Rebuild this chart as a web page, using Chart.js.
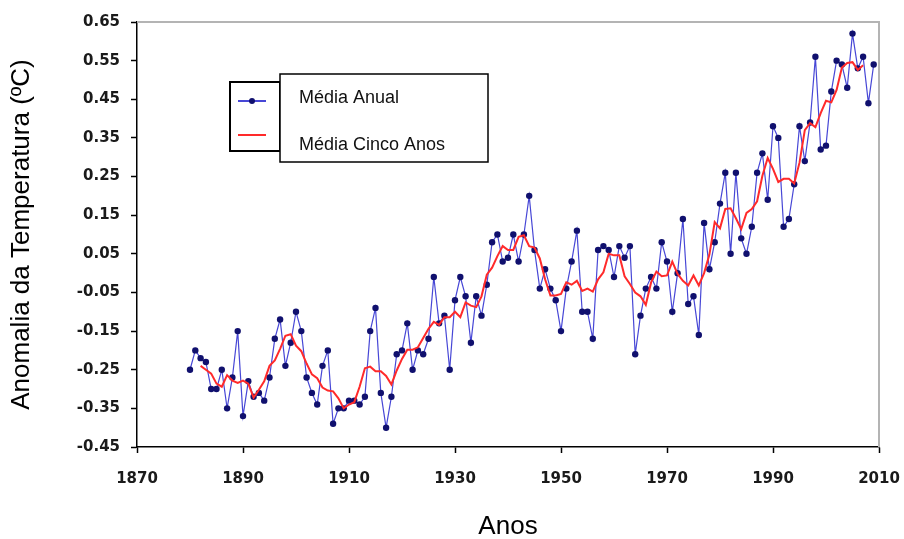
<!DOCTYPE html>
<html>
<head>
<meta charset="utf-8">
<script src="https://cdn.jsdelivr.net/npm/chart.js@4/dist/chart.umd.min.js"></script>
<style>
  html, body { margin: 0; padding: 0; background: #fff; }
  #wrap { width: 904px; height: 539px; }
</style>
</head>
<body>
<div id="wrap"><canvas id="c" width="904" height="539"></canvas></div>
<script>
// ---- data ----
const years = [1880,1881,1882,1883,1884,1885,1886,1887,1888,1889,
  1890,1891,1892,1893,1894,1895,1896,1897,1898,1899,
  1900,1901,1902,1903,1904,1905,1906,1907,1908,1909,
  1910,1911,1912,1913,1914,1915,1916,1917,1918,1919,
  1920,1921,1922,1923,1924,1925,1926,1927,1928,1929,
  1930,1931,1932,1933,1934,1935,1936,1937,1938,1939,
  1940,1941,1942,1943,1944,1945,1946,1947,1948,1949,
  1950,1951,1952,1953,1954,1955,1956,1957,1958,1959,
  1960,1961,1962,1963,1964,1965,1966,1967,1968,1969,
  1970,1971,1972,1973,1974,1975,1976,1977,1978,1979,
  1980,1981,1982,1983,1984,1985,1986,1987,1988,1989,
  1990,1991,1992,1993,1994,1995,1996,1997,1998,1999,
  2000,2001,2002,2003,2004,2005,2006,2007,2008,2009];

const annualMean = [-0.25,-0.20,-0.22,-0.23,-0.30,-0.30,-0.25,-0.35,-0.27,-0.15,
  -0.37,-0.28,-0.32,-0.31,-0.33,-0.27,-0.17,-0.12,-0.24,-0.18,
  -0.10,-0.15,-0.27,-0.31,-0.34,-0.24,-0.20,-0.39,-0.35,-0.35,
  -0.33,-0.33,-0.34,-0.32,-0.15,-0.09,-0.31,-0.40,-0.32,-0.21,
  -0.20,-0.13,-0.25,-0.20,-0.21,-0.17,-0.01,-0.13,-0.11,-0.25,
  -0.07,-0.01,-0.06,-0.18,-0.06,-0.11,-0.03,0.08,0.10,0.03,
  0.04,0.10,0.03,0.10,0.20,0.06,-0.04,0.01,-0.04,-0.07,
  -0.15,-0.04,0.03,0.11,-0.10,-0.10,-0.17,0.06,0.07,0.06,
  -0.01,0.07,0.04,0.07,-0.21,-0.11,-0.04,-0.01,-0.04,0.08,
  0.03,-0.10,0.00,0.14,-0.08,-0.06,-0.16,0.13,0.01,0.08,
  0.18,0.26,0.05,0.26,0.09,0.05,0.12,0.26,0.31,0.19,
  0.38,0.35,0.12,0.14,0.23,0.38,0.29,0.39,0.56,0.32,
  0.33,0.47,0.55,0.54,0.48,0.62,0.53,0.56,0.44,0.54];

const fiveYearYears = [1882,1883,1884,1885,1886,1887,1888,1889,1890,1891,
  1892,1893,1894,1895,1896,1897,1898,1899,1900,1901,
  1902,1903,1904,1905,1906,1907,1908,1909,1910,1911,
  1912,1913,1914,1915,1916,1917,1918,1919,1920,1921,
  1922,1923,1924,1925,1926,1927,1928,1929,1930,1931,
  1932,1933,1934,1935,1936,1937,1938,1939,1940,1941,
  1942,1943,1944,1945,1946,1947,1948,1949,1950,1951,
  1952,1953,1954,1955,1956,1957,1958,1959,1960,1961,
  1962,1963,1964,1965,1966,1967,1968,1969,1970,1971,
  1972,1973,1974,1975,1976,1977,1978,1979,1980,1981,
  1982,1983,1984,1985,1986,1987,1988,1989,1990,1991,
  1992,1993,1994,1995,1996,1997,1998,1999,2000,2001,
  2002,2003,2004,2005,2006,2007];

const fiveYearMean = [-0.240,-0.250,-0.260,-0.286,-0.294,-0.264,-0.278,-0.284,-0.278,-0.286,
  -0.322,-0.302,-0.280,-0.240,-0.226,-0.196,-0.162,-0.158,-0.188,-0.202,
  -0.234,-0.262,-0.272,-0.296,-0.304,-0.306,-0.324,-0.350,-0.340,-0.334,
  -0.294,-0.246,-0.242,-0.254,-0.254,-0.266,-0.288,-0.252,-0.222,-0.198,
  -0.198,-0.192,-0.168,-0.144,-0.126,-0.134,-0.114,-0.114,-0.100,-0.114,
  -0.076,-0.084,-0.088,-0.060,-0.004,0.014,0.044,0.070,0.060,0.060,
  0.094,0.098,0.070,0.066,0.038,-0.016,-0.058,-0.058,-0.054,-0.024,
  -0.030,-0.020,-0.046,-0.040,-0.048,-0.016,0.002,0.050,0.046,0.046,
  -0.008,-0.028,-0.050,-0.060,-0.082,-0.024,0.004,-0.008,-0.006,0.030,
  -0.002,-0.020,-0.032,-0.006,-0.032,0.000,0.048,0.132,0.116,0.166,
  0.168,0.142,0.114,0.156,0.166,0.186,0.252,0.298,0.270,0.236,
  0.244,0.244,0.232,0.286,0.370,0.388,0.378,0.414,0.446,0.442,
  0.474,0.532,0.544,0.546,0.526,0.538];

const xTicks = [1870,1890,1910,1930,1950,1970,1990,2010];
const yTicks = [-0.45,-0.35,-0.25,-0.15,-0.05,0.05,0.15,0.25,0.35,0.45,0.55,0.65];

const seriesNames = ['Média Anual', 'Média Cinco Anos'];
const xTitle = 'Anos';
const yTitle = 'Anomalia da Temperatura (ºC)';

// ---- chart ----
const AREA = { left: 137, right: 879, top: 22, bottom: 447 };
const W = 904, H = 539;

const tickFont = { family: '"DejaVu Sans", sans-serif', size: 15, weight: 'bold' };
const titleFont = { family: '"Liberation Sans", Arial, sans-serif', size: 26 };

const framePlugin = {
  id: 'frame',
  beforeDatasetsDraw(chart) {
    const { ctx, chartArea: a } = chart;
    ctx.save();
    ctx.strokeStyle = '#b4b4b4';
    ctx.lineWidth = 2;
    ctx.beginPath();
    ctx.moveTo(a.left, a.top);
    ctx.lineTo(a.right, a.top);
    ctx.lineTo(a.right, a.bottom);
    ctx.stroke();
    ctx.restore();
  }
};

const legendPlugin = {
  id: 'customLegend',
  afterDraw(chart) {
    const { ctx } = chart;
    const ds = chart.data.datasets;
    ctx.save();
    // left (sample) box
    ctx.fillStyle = '#fff';
    ctx.strokeStyle = '#000';
    ctx.lineWidth = 2;
    ctx.fillRect(230, 82, 50, 69);
    ctx.strokeRect(230, 82, 50, 69);
    // right (text) box
    ctx.lineWidth = 1.5;
    ctx.fillRect(280, 74, 208, 88);
    ctx.strokeRect(280, 74, 208, 88);
    // blue sample
    ctx.strokeStyle = ds[0].borderColor;
    ctx.lineWidth = 2;
    ctx.beginPath(); ctx.moveTo(238, 101); ctx.lineTo(266, 101); ctx.stroke();
    ctx.fillStyle = ds[0].pointBackgroundColor;
    ctx.beginPath(); ctx.arc(252, 101, 3, 0, Math.PI * 2); ctx.fill();
    // red sample
    ctx.strokeStyle = ds[1].borderColor;
    ctx.lineWidth = 2;
    ctx.beginPath(); ctx.moveTo(238, 135); ctx.lineTo(266, 135); ctx.stroke();
    // texts
    ctx.fillStyle = '#111';
    ctx.font = '18px "Liberation Sans", Arial, sans-serif';
    ctx.textBaseline = 'middle';
    ctx.textAlign = 'left';
    ctx.fillText(ds[0].label, 299, 98);
    ctx.fillText(ds[1].label, 299, 145);
    ctx.restore();
  }
};

new Chart(document.getElementById('c'), {
  type: 'line',
  data: {
    datasets: [
      {
        label: seriesNames[0],
        data: years.map((y, i) => ({ x: y, y: annualMean[i] })),
        borderColor: '#4747d6',
        borderWidth: 1.2,
        pointRadius: 3.2,
        pointBackgroundColor: '#10106e',
        pointBorderColor: '#10106e',
        pointBorderWidth: 0,
        tension: 0,
        order: 2
      },
      {
        label: seriesNames[1],
        data: fiveYearYears.map((y, i) => ({ x: y, y: fiveYearMean[i] })),
        borderColor: '#ff2a2a',
        borderWidth: 2,
        pointRadius: 0,
        tension: 0,
        order: 1
      }
    ]
  },
  options: {
    responsive: false,
    animation: false,
    devicePixelRatio: 1,
    layout: { padding: { left: 0, top: AREA.top, right: W - AREA.right, bottom: 0 } },
    plugins: {
      legend: { display: false },
      tooltip: { enabled: false }
    },
    scales: {
      x: {
        type: 'linear',
        min: xTicks[0],
        max: xTicks[xTicks.length - 1],
        afterBuildTicks(scale) { scale.ticks = xTicks.map(v => ({ value: v })); },
        afterFit(scale) {
          scale.height = H - AREA.bottom;
          scale.paddingLeft = 0; scale.paddingRight = 0;
        },
        ticks: {
          font: tickFont,
          color: '#1a1a1a',
          padding: 17,
          maxRotation: 0,
          autoSkip: false,
          callback: v => String(v)
        },
        grid: { drawOnChartArea: false, drawTicks: true, tickLength: 6, tickColor: '#000', tickWidth: 1.5 },
        border: { color: '#000', width: 1.5 },
        title: { display: true, text: xTitle, font: titleFont, color: '#000', padding: { top: 0, bottom: -3 } }
      },
      y: {
        type: 'linear',
        min: yTicks[0],
        max: yTicks[yTicks.length - 1],
        afterBuildTicks(scale) { scale.ticks = yTicks.map(v => ({ value: v })); },
        afterFit(scale) {
          scale.width = AREA.left;
          scale.paddingTop = 0; scale.paddingBottom = 0;
        },
        ticks: {
          font: tickFont,
          color: '#1a1a1a',
          padding: 11,
          autoSkip: false,
          callback: v => Number(v).toFixed(2)
        },
        grid: { drawOnChartArea: false, drawTicks: true, tickLength: 6, tickColor: '#000', tickWidth: 1.5 },
        border: { color: '#000', width: 1.5 },
        title: { display: true, text: yTitle, font: titleFont, color: '#000', padding: { top: 6, bottom: 0 } }
      }
    }
  },
  plugins: [framePlugin, legendPlugin]
});
</script>
</body>
</html>
